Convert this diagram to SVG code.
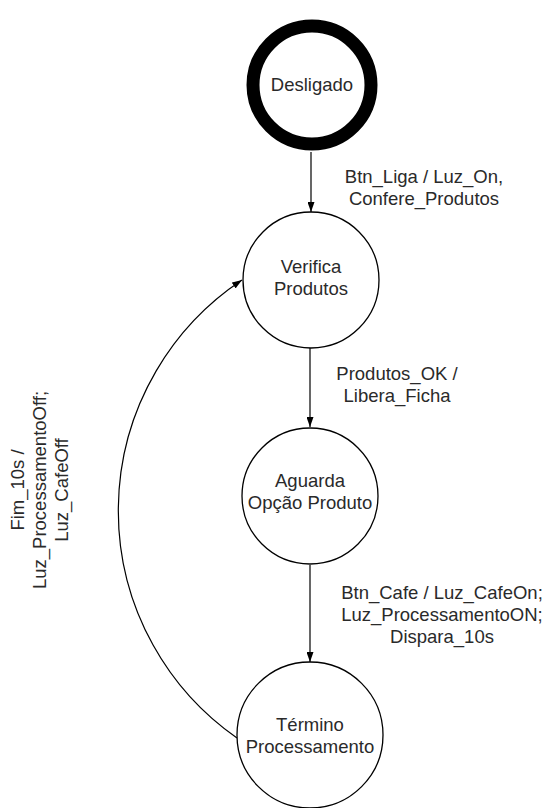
<svg xmlns="http://www.w3.org/2000/svg" width="548" height="808" viewBox="0 0 548 808">
<defs>
<marker id="arr" viewBox="0 0 10 8" refX="10" refY="4" markerWidth="10" markerHeight="7" markerUnits="userSpaceOnUse" orient="auto" preserveAspectRatio="none">
<path d="M0,0 L10,4 L0,8 z" fill="#000"/>
</marker>
<style>
.st{fill:#fff;stroke:#000;stroke-width:1.3}
.init{fill:#fff;stroke:#000;stroke-width:13}
.lbl{font-family:"Liberation Sans",Arial,sans-serif;font-size:18.5px;fill:#2a2a2a;text-anchor:middle}
.edge{fill:none;stroke:#000;stroke-width:1.2;marker-end:url(#arr)}
</style>
</defs>
<rect width="548" height="808" fill="#fff"/>
<g id="connectors">
<line class="edge" x1="311" y1="152" x2="311" y2="212"/>
<line class="edge" x1="310" y1="348" x2="310" y2="427"/>
<line class="edge" x1="310" y1="565" x2="310" y2="662"/>
<path class="edge" d="M237,738 A277,277 0 0 1 242,280"/>
<text class="lbl"><tspan x="424" y="183">Btn_Liga / Luz_On,</tspan><tspan x="424" y="205">Confere_Produtos</tspan></text>
<text class="lbl"><tspan x="397" y="380">Produtos_OK /</tspan><tspan x="397" y="402">Libera_Ficha</tspan></text>
<text class="lbl"><tspan x="442" y="599">Btn_Cafe / Luz_CafeOn;</tspan><tspan x="442" y="621">Luz_ProcessamentoON;</tspan><tspan x="442" y="643">Dispara_10s</tspan></text>
<text class="lbl" transform="translate(2,490) rotate(-90)"><tspan x="0" y="22">Fim_10s /</tspan><tspan x="0" y="44">Luz_ProcessamentoOff;</tspan><tspan x="0" y="66">Luz_CafeOff</tspan></text>
</g>
<g id="desligado">
<circle class="init" cx="312" cy="85" r="59"/>
<text class="lbl" x="312" y="91">Desligado</text>
</g>
<g id="verifica">
<circle class="st" cx="311" cy="280" r="68"/>
<text class="lbl"><tspan x="311" y="273">Verifica</tspan><tspan x="311" y="295">Produtos</tspan></text>
</g>
<g id="aguarda">
<circle class="st" cx="310" cy="496" r="68"/>
<text class="lbl"><tspan x="310" y="487">Aguarda</tspan><tspan x="310" y="509">Opção Produto</tspan></text>
</g>
<g id="termino">
<circle class="st" cx="310" cy="735" r="73"/>
<text class="lbl"><tspan x="310" y="731">Término</tspan><tspan x="310" y="753">Processamento</tspan></text>
</g>
</svg>
